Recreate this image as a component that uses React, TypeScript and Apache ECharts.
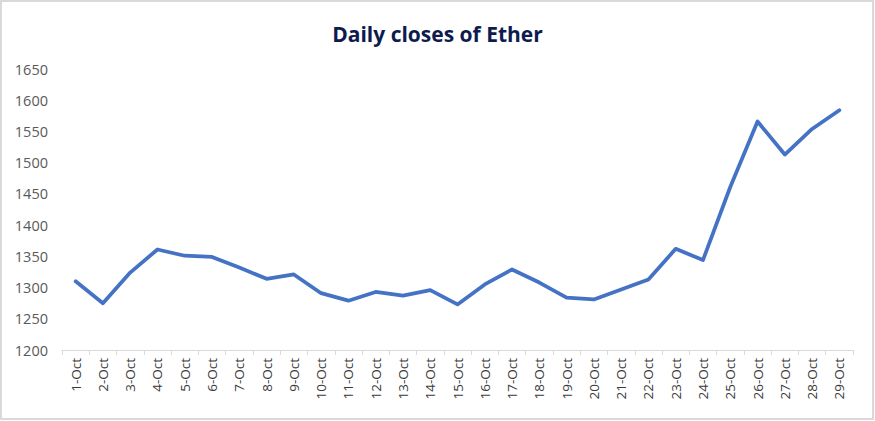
import React, { useEffect, useRef } from "react";
import * as echarts from "echarts";

const categories = [
  "1-Oct", "2-Oct", "3-Oct", "4-Oct", "5-Oct", "6-Oct", "7-Oct", "8-Oct", "9-Oct", "10-Oct",
  "11-Oct", "12-Oct", "13-Oct", "14-Oct", "15-Oct", "16-Oct", "17-Oct", "18-Oct", "19-Oct", "20-Oct",
  "21-Oct", "22-Oct", "23-Oct", "24-Oct", "25-Oct", "26-Oct", "27-Oct", "28-Oct", "29-Oct",
];
const closes = [
  1310, 1275, 1324, 1361, 1351, 1349, 1332, 1314, 1321, 1291,
  1279, 1293, 1287, 1296, 1273, 1305, 1329, 1308, 1284, 1281,
  1297, 1313, 1362, 1344, 1461, 1566, 1513, 1554, 1584,
];
const yMin = 1200;
const yMax = 1650;
const yStep = 50;
const title = "Daily closes of Ether";

export default function App() {
  const ref = useRef<HTMLDivElement>(null);
  useEffect(() => {
    if (!ref.current) return;
    const chart = echarts.init(ref.current, null, { renderer: "svg" });
    chart.setOption({
      animation: false,
      backgroundColor: "#ffffff",
      title: {
        text: title,
        left: "center",
        top: 18,
        textStyle: {
          fontFamily: "Open Sans",
          fontWeight: "bold",
          fontSize: 21,
          color: "#0D1B4F",
        },
      },
      graphic: [
        {
          type: "rect",
          shape: { x: 1, y: 1, width: 872, height: 418 },
          style: { fill: "none", stroke: "#d9d9d9", lineWidth: 2 },
          silent: true,
        },
      ],
      grid: { left: 62, right: 22, top: 69, bottom: 71, containLabel: false },
      xAxis: {
        type: "category",
        data: categories,
        boundaryGap: true,
        axisLine: { show: true, lineStyle: { color: "#d9d9d9", width: 1 } },
        axisTick: { show: true, alignWithLabel: false, length: 5, lineStyle: { color: "#d9d9d9" } },
        axisLabel: {
          interval: 0,
          rotate: 90,
          margin: 8,
          fontFamily: "Open Sans",
          fontSize: 13.5,
          color: "#3a3a3a",
        },
        splitLine: { show: false },
      },
      yAxis: {
        type: "value",
        min: yMin,
        max: yMax,
        interval: yStep,
        axisLine: { show: false },
        axisTick: { show: false },
        splitLine: { show: false },
        axisLabel: {
          margin: 14,
          fontFamily: "Open Sans",
          fontSize: 14.5,
          color: "#595959",
          formatter: (v: number) => String(v),
        },
      },
      series: [
        {
          type: "line",
          data: closes,
          symbol: "none",
          lineStyle: { color: "#4472C4", width: 3.75, cap: "round", join: "round" },
          itemStyle: { color: "#4472C4" },
        },
      ],
    });
    return () => chart.dispose();
  }, []);
  return (
    <div
      ref={ref}
      style={{ position: "fixed", left: 0, top: 0, width: 875, height: 421 }}
    />
  );
}
